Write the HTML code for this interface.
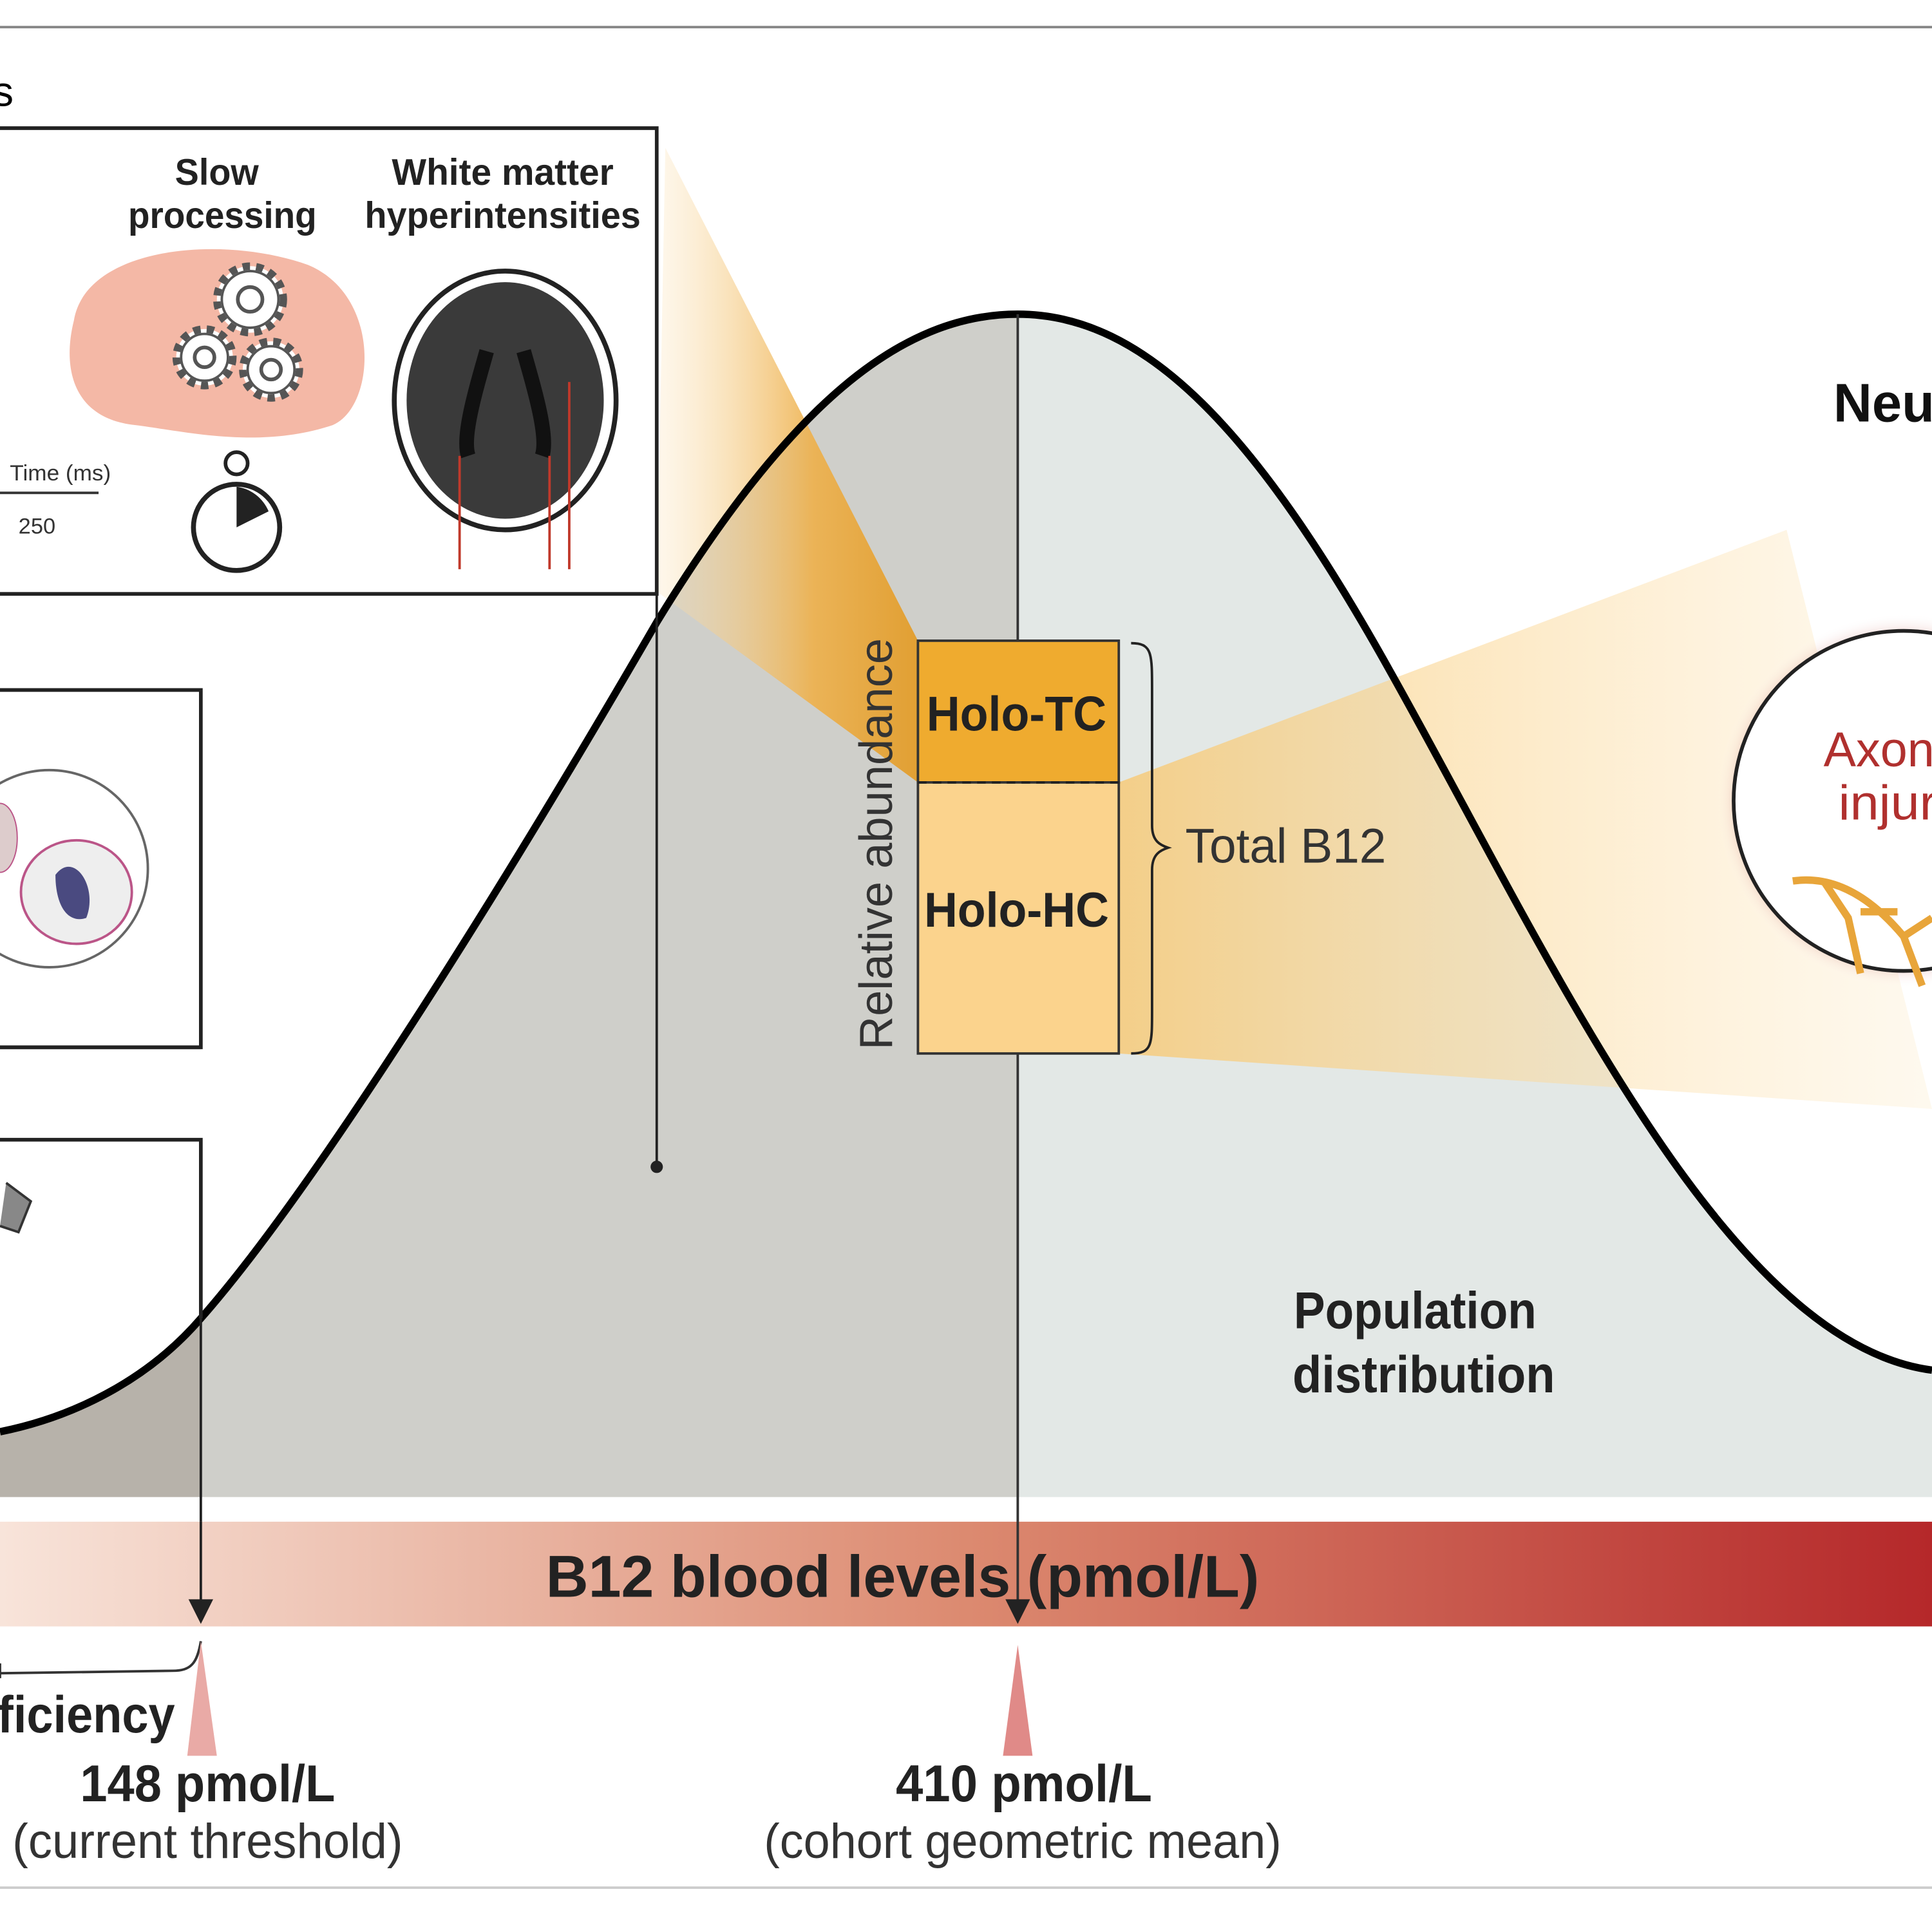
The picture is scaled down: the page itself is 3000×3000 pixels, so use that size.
<!DOCTYPE html>
<html><head><meta charset="utf-8"><style>
html,body{margin:0;padding:0;background:#fff;}
svg{display:block;}
text{font-family:"Liberation Sans Narrow","Liberation Sans",sans-serif;}
</style></head><body>
<svg width="3000" height="3000" viewBox="0 0 1568 1568" xmlns="http://www.w3.org/2000/svg">
<defs>
<linearGradient id="bar" x1="0" x2="1" y1="0" y2="0">
<stop offset="0" stop-color="#f8e4da"/><stop offset="0.5" stop-color="#dc8a70"/><stop offset="1" stop-color="#b5282a"/>
</linearGradient>
<linearGradient id="cone1" x1="0" x2="1" y1="0" y2="0">
<stop offset="0" stop-color="#fbe3b8" stop-opacity="0.3"/><stop offset="0.6" stop-color="#eeb04a"/><stop offset="1" stop-color="#e39a22"/>
</linearGradient>
<linearGradient id="cone2" x1="0" x2="1" y1="0" y2="0">
<stop offset="0" stop-color="#f9c66a"/><stop offset="1" stop-color="#fdebc8" stop-opacity="0.4"/>
</linearGradient>
<radialGradient id="glow" cx="0.5" cy="0.5" r="0.5">
<stop offset="0.8" stop-color="#c0392b"/><stop offset="1" stop-color="#fff" stop-opacity="0"/>
</radialGradient>
<clipPath id="leftc"><rect x="163" y="0" width="663" height="1568"/></clipPath>
<clipPath id="rightc"><rect x="826" y="0" width="742" height="1568"/></clipPath>
<clipPath id="farl"><rect x="0" y="0" width="163" height="1568"/></clipPath>
<path id="bellfill" d="M0,1162 C60,1150 120,1120 163,1070 C260,960 420,700 533,505 C640,330 730,255 826,255 C930,255 1020,350 1130,548 C1260,780 1400,1090 1568,1112 L1568,1215 L0,1215 Z"/>
</defs>
<line x1="0" y1="22" x2="1568" y2="22" stroke="#888" stroke-width="2"/>
<text x="-6" y="86" font-size="34">s</text>

<!-- lower left box (behind curve) -->
<rect x="-5" y="925" width="168" height="290" fill="#fff"/>
<path d="M5,960 L25,975 L15,1000 L0,995" fill="#888" stroke="#333" stroke-width="2"/>

<!-- bell curve -->
<use href="#bellfill" fill="#cfcfca" clip-path="url(#leftc)"/>
<use href="#bellfill" fill="#e3e8e6" clip-path="url(#rightc)"/>
<use href="#bellfill" fill="#b7b2aa" clip-path="url(#farl)"/>

<!-- cones -->
<polygon points="540,120 745,520 745,635 533,480" fill="url(#cone1)" opacity="0.9"/>
<polygon points="908,635 1450,430 1568,900 908,855" fill="url(#cone2)" opacity="0.75"/>

<path d="M0,1162 C60,1150 120,1120 163,1070 C260,960 420,700 533,505 C640,330 730,255 826,255 C930,255 1020,350 1130,548 C1260,780 1400,1090 1568,1112" fill="none" stroke="#000" stroke-width="6"/>
<path d="M-5,925 L163,925 L163,1070" fill="none" stroke="#222" stroke-width="3"/>

<!-- top-left box -->
<rect x="-5" y="104" width="538" height="378" fill="#fff" stroke="#222" stroke-width="3"/>
<text x="142" y="150" font-size="30" font-weight="bold" fill="#222" textLength="68" lengthAdjust="spacingAndGlyphs">Slow</text>
<text x="104" y="185" font-size="30" font-weight="bold" fill="#222" textLength="153" lengthAdjust="spacingAndGlyphs">processing</text>
<text x="318" y="150" font-size="30" font-weight="bold" fill="#222" textLength="180" lengthAdjust="spacingAndGlyphs">White matter</text>
<text x="296" y="185" font-size="30" font-weight="bold" fill="#222" textLength="224" lengthAdjust="spacingAndGlyphs">hyperintensities</text>
<path d="M60,260 C70,200 180,190 250,215 C310,240 305,330 270,345 C210,365 150,350 110,345 C60,340 50,300 60,260 Z" fill="#f4b8a6"/>
<g fill="#fff" stroke="#555" stroke-width="6" stroke-dasharray="6,5">
<circle cx="203" cy="243" r="27"/><circle cx="166" cy="290" r="23"/><circle cx="220" cy="300" r="23"/>
</g>
<g fill="#fff" stroke="#555" stroke-width="2"><circle cx="203" cy="243" r="23"/><circle cx="166" cy="290" r="19"/><circle cx="220" cy="300" r="19"/></g>
<g fill="none" stroke="#555" stroke-width="3"><circle cx="203" cy="243" r="10"/><circle cx="166" cy="290" r="8"/><circle cx="220" cy="300" r="8"/></g>
<circle cx="192" cy="428" r="35" fill="#fff" stroke="#222" stroke-width="4"/>
<path d="M192,428 L192,395 A33,33 0 0 1 218,415 Z" fill="#222"/>
<circle cx="192" cy="376" r="9" fill="none" stroke="#222" stroke-width="3"/>
<text x="8" y="390" font-size="18" fill="#333" textLength="82" lengthAdjust="spacingAndGlyphs">Time (ms)</text>
<line x1="0" y1="400" x2="80" y2="400" stroke="#333" stroke-width="2"/>
<text x="15" y="433" font-size="18" fill="#333">250</text>
<ellipse cx="410" cy="325" rx="90" ry="105" fill="#fff" stroke="#222" stroke-width="4"/>
<ellipse cx="410" cy="325" rx="80" ry="96" fill="#3a3a3a"/>
<path d="M395,285 C385,320 375,355 380,370 M425,285 C435,320 445,355 440,370" stroke="#111" stroke-width="12" fill="none"/>
<line x1="373" y1="370" x2="373" y2="462" stroke="#c0392b" stroke-width="2"/>
<line x1="446" y1="370" x2="446" y2="462" stroke="#c0392b" stroke-width="2"/>
<line x1="462" y1="310" x2="462" y2="462" stroke="#c0392b" stroke-width="2"/>

<!-- left box -->
<rect x="-5" y="560" width="168" height="290" fill="#fff" stroke="#222" stroke-width="3"/>
<circle cx="40" cy="705" r="80" fill="#fff" stroke="#666" stroke-width="2"/>
<ellipse cx="62" cy="724" rx="45" ry="42" fill="#eee" stroke="#b58" stroke-width="2"/>
<path d="M45,710 C60,690 80,720 70,745 C55,750 45,735 45,710 Z" fill="#4a4a80"/>
<ellipse cx="0" cy="680" rx="14" ry="28" fill="#dcc" stroke="#b58"/>
<line x1="0" y1="850" x2="163" y2="850" stroke="#222" stroke-width="3"/>

<!-- vertical lines -->
<line x1="533" y1="482" x2="533" y2="947" stroke="#222" stroke-width="2"/>
<circle cx="533" cy="947" r="5" fill="#222"/>
<line x1="826" y1="255" x2="826" y2="1310" stroke="#333" stroke-width="2"/>
<line x1="163" y1="1070" x2="163" y2="1310" stroke="#222" stroke-width="2"/>

<!-- holo boxes -->
<rect x="745" y="520" width="163" height="115" fill="#efab2f" stroke="#333" stroke-width="2"/>
<rect x="745" y="635" width="163" height="220" fill="#fbd38d" stroke="#333" stroke-width="2"/>
<line x1="745" y1="635" x2="908" y2="635" stroke="#222" stroke-width="2" stroke-dasharray="7,5"/>
<text x="752" y="593" font-size="40" font-weight="bold" fill="#222" textLength="146" lengthAdjust="spacingAndGlyphs">Holo-TC</text>
<text x="750" y="752" font-size="40" font-weight="bold" fill="#222" textLength="150" lengthAdjust="spacingAndGlyphs">Holo-HC</text>
<text transform="translate(724,852) rotate(-90)" font-size="38" fill="#333" textLength="334" lengthAdjust="spacingAndGlyphs">Relative abundance</text>
<path d="M918,522 C935,522 935,530 935,560 L935,670 C935,683 942,686 948,688 C942,690 935,693 935,706 L935,820 C935,848 935,855 918,855" fill="none" stroke="#222" stroke-width="2"/>
<text x="962" y="700" font-size="40" fill="#333" textLength="163" lengthAdjust="spacingAndGlyphs">Total B12</text>

<!-- right circle -->
<circle cx="1545" cy="650" r="152" fill="url(#glow)" opacity="0.6"/>
<circle cx="1545" cy="650" r="138" fill="#fff" stroke="#222" stroke-width="3"/>
<text x="1488" y="342" font-size="44" font-weight="bold" fill="#111" textLength="82" lengthAdjust="spacingAndGlyphs">Neu</text>
<text x="1480" y="622" font-size="40" fill="#b0302e" textLength="90" lengthAdjust="spacingAndGlyphs">Axon</text>
<text x="1492" y="665" font-size="40" fill="#b0302e" textLength="80" lengthAdjust="spacingAndGlyphs">injur</text>
<path d="M1455,715 C1490,710 1520,730 1545,760 M1480,715 L1500,745 L1510,790 M1510,740 L1540,740 M1545,760 L1568,745 M1545,760 L1560,800" stroke="#e8a53a" stroke-width="6" fill="none"/>

<text x="1050" y="1078" font-size="42" font-weight="bold" fill="#222" textLength="197" lengthAdjust="spacingAndGlyphs">Population</text>
<text x="1049" y="1130" font-size="42" font-weight="bold" fill="#222" textLength="213" lengthAdjust="spacingAndGlyphs">distribution</text>

<!-- bar -->
<rect x="0" y="1235" width="1568" height="85" fill="url(#bar)"/>
<line x1="826" y1="1235" x2="826" y2="1310" stroke="#333" stroke-width="2"/>
<line x1="163" y1="1235" x2="163" y2="1310" stroke="#222" stroke-width="2"/>
<text x="443" y="1296" font-size="48" font-weight="bold" fill="#222" textLength="579" lengthAdjust="spacingAndGlyphs">B12 blood levels (pmol/L)</text>
<polygon points="816,1298 836,1298 826,1318" fill="#222"/>
<polygon points="153,1298 173,1298 163,1318" fill="#222"/>

<path d="M0,1358 L140,1356 C155,1356 160,1350 163,1332 M0,1350 L0,1362" fill="none" stroke="#333" stroke-width="2"/>
<polygon points="163,1332 152,1425 176,1425" fill="#e9aaa6"/>
<polygon points="826,1335 814,1425 838,1425" fill="#e08a88"/>
<text x="-2" y="1406" font-size="42" font-weight="bold" fill="#222" textLength="144" lengthAdjust="spacingAndGlyphs">ficiency</text>
<text x="65" y="1462" font-size="42" font-weight="bold" fill="#222" textLength="207" lengthAdjust="spacingAndGlyphs">148 pmol/L</text>
<text x="10" y="1508" font-size="40" fill="#333" textLength="317" lengthAdjust="spacingAndGlyphs">(current threshold)</text>
<text x="727" y="1462" font-size="42" font-weight="bold" fill="#222" textLength="208" lengthAdjust="spacingAndGlyphs">410 pmol/L</text>
<text x="620" y="1508" font-size="40" fill="#333" textLength="420" lengthAdjust="spacingAndGlyphs">(cohort geometric mean)</text>
<line x1="0" y1="1532" x2="1568" y2="1532" stroke="#ccc" stroke-width="2"/>
</svg>
</body></html>
